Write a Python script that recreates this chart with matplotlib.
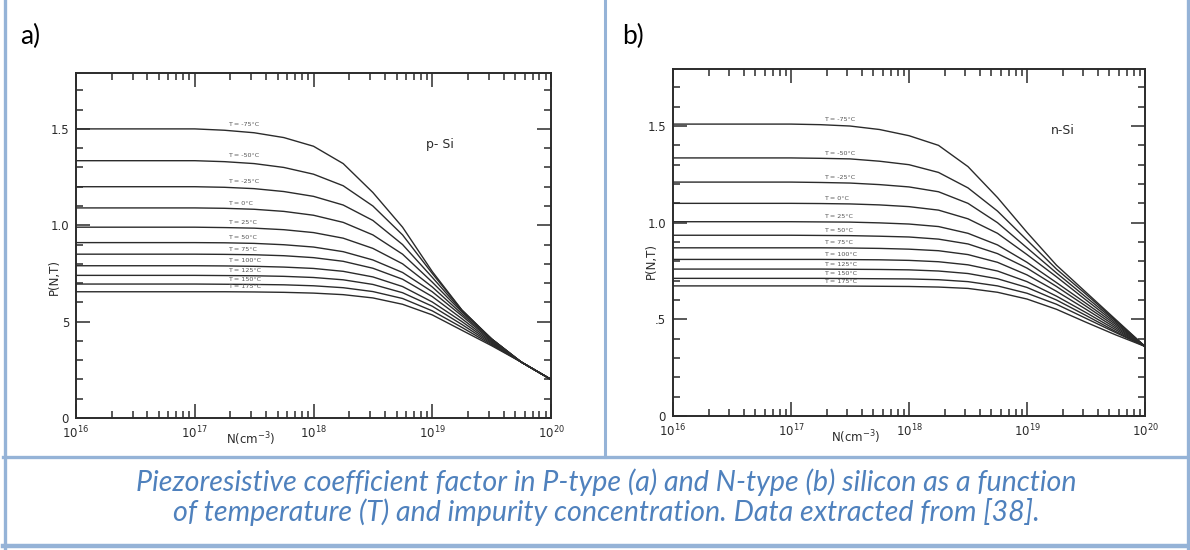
import matplotlib
matplotlib.use("Agg")
import matplotlib.pyplot as plt
import numpy as np
from matplotlib.lines import Line2D
from matplotlib.ticker import FixedLocator, MultipleLocator, NullFormatter
from matplotlib.transforms import blended_transform_factory

# doping grid, log10(N / cm^-3)
LOG_N = [16, 16.5, 17, 17.25, 17.5, 17.75, 18, 18.25, 18.5, 18.75, 19, 19.25, 19.5, 19.75, 20]
TEMPS = ["-75", "-50", "-25", "0", "25", "50", "75", "100", "125", "150", "175"]

# a) p-Si, one row per temperature
P_SI = [
    [1.50, 1.50, 1.50, 1.493, 1.48, 1.455, 1.41, 1.32, 1.17, 0.99, 0.76, 0.56, 0.41, 0.29, 0.20],
    [1.335, 1.335, 1.335, 1.33, 1.32, 1.30, 1.265, 1.205, 1.10, 0.95, 0.75, 0.56, 0.41, 0.29, 0.20],
    [1.20, 1.20, 1.20, 1.197, 1.19, 1.175, 1.15, 1.105, 1.025, 0.90, 0.73, 0.555, 0.41, 0.29, 0.20],
    [1.09, 1.09, 1.09, 1.088, 1.083, 1.072, 1.052, 1.015, 0.95, 0.85, 0.705, 0.55, 0.41, 0.29, 0.20],
    [0.99, 0.99, 0.99, 0.988, 0.985, 0.977, 0.962, 0.933, 0.88, 0.80, 0.68, 0.54, 0.405, 0.29, 0.20],
    [0.91, 0.91, 0.91, 0.909, 0.906, 0.899, 0.887, 0.863, 0.82, 0.755, 0.655, 0.53, 0.40, 0.29, 0.20],
    [0.85, 0.85, 0.85, 0.849, 0.847, 0.842, 0.832, 0.813, 0.777, 0.72, 0.63, 0.515, 0.395, 0.29, 0.20],
    [0.79, 0.79, 0.79, 0.789, 0.787, 0.783, 0.776, 0.761, 0.732, 0.682, 0.602, 0.50, 0.39, 0.29, 0.20],
    [0.74, 0.74, 0.74, 0.739, 0.738, 0.735, 0.729, 0.717, 0.693, 0.65, 0.58, 0.485, 0.385, 0.29, 0.20],
    [0.695, 0.695, 0.695, 0.694, 0.693, 0.691, 0.686, 0.676, 0.656, 0.62, 0.556, 0.47, 0.38, 0.29, 0.20],
    [0.655, 0.655, 0.655, 0.655, 0.654, 0.652, 0.648, 0.64, 0.623, 0.59, 0.535, 0.455, 0.375, 0.29, 0.20],
]

# b) n-Si
N_SI = [
    [1.51, 1.51, 1.51, 1.507, 1.50, 1.482, 1.45, 1.40, 1.29, 1.13, 0.95, 0.78, 0.64, 0.50, 0.36],
    [1.335, 1.335, 1.335, 1.333, 1.33, 1.318, 1.30, 1.26, 1.18, 1.06, 0.91, 0.76, 0.63, 0.495, 0.36],
    [1.21, 1.21, 1.21, 1.208, 1.205, 1.197, 1.185, 1.16, 1.10, 1.00, 0.87, 0.74, 0.615, 0.49, 0.36],
    [1.10, 1.10, 1.10, 1.099, 1.097, 1.092, 1.083, 1.065, 1.02, 0.945, 0.835, 0.72, 0.60, 0.482, 0.36],
    [1.005, 1.005, 1.005, 1.004, 1.003, 0.999, 0.993, 0.98, 0.945, 0.885, 0.795, 0.69, 0.583, 0.474, 0.36],
    [0.935, 0.935, 0.935, 0.934, 0.933, 0.93, 0.926, 0.915, 0.89, 0.84, 0.765, 0.67, 0.568, 0.465, 0.36],
    [0.87, 0.87, 0.87, 0.87, 0.869, 0.867, 0.863, 0.855, 0.835, 0.795, 0.73, 0.645, 0.552, 0.456, 0.36],
    [0.81, 0.81, 0.81, 0.81, 0.809, 0.808, 0.805, 0.798, 0.782, 0.75, 0.695, 0.62, 0.535, 0.447, 0.36],
    [0.76, 0.76, 0.76, 0.76, 0.759, 0.758, 0.756, 0.75, 0.737, 0.71, 0.665, 0.60, 0.52, 0.438, 0.36],
    [0.712, 0.712, 0.712, 0.712, 0.711, 0.71, 0.709, 0.705, 0.695, 0.673, 0.635, 0.578, 0.505, 0.432, 0.36],
    [0.673, 0.673, 0.673, 0.673, 0.672, 0.671, 0.67, 0.667, 0.66, 0.64, 0.605, 0.552, 0.485, 0.42, 0.36],
]

DECADES = [16, 17, 18, 19, 20]
CAPTION = ("Piezoresistive coefficient factor in P-type (a) and N-type (b) silicon as a function\n"
           "of temperature (T) and impurity concentration. Data extracted from [38].")

INK = "#2b2b2b"
BORDER = "#95b3d7"
CAP_BLUE = "#4f81bd"


def draw_panel(ax, curves, ytop, half_label, tag, tag_xy, ylab_y, nlab_x):
    n = 10.0 ** np.array(LOG_N)
    for row, t in zip(curves, TEMPS):
        ax.plot(n, row, color=INK, lw=1.0, solid_capstyle="round", solid_joinstyle="round")
        ax.text(10 ** 17.28, row[0] + 0.012, f"T = {t}°C", fontsize=4.6, color="#555555",
                va="bottom", ha="left")
    ax.set_xscale("log")
    ax.set_xlim(1e16, 1e20)
    ax.set_ylim(0, ytop)
    ax.xaxis.set_major_locator(FixedLocator([10.0 ** d for d in DECADES]))
    ax.set_xticklabels([f"$10^{{{d}}}$" for d in DECADES])
    ax.xaxis.set_minor_formatter(NullFormatter())
    ax.set_yticks([0, 0.5, 1.0, 1.5])
    ax.set_yticklabels(["0", half_label, "1.0", "1.5"])
    ax.yaxis.set_minor_locator(MultipleLocator(0.1))
    ax.tick_params(which="both", direction="in", top=True, right=True, colors=INK,
                   labelsize=8.5, width=1.1)
    ax.tick_params(which="major", length=10, pad=5)
    ax.tick_params(which="minor", length=5)
    for s in ax.spines.values():
        s.set_color(INK)
        s.set_linewidth(1.4)
    ax.text(tag_xy[0], tag_xy[1], tag, fontsize=9, color=INK, transform=ax.transData)
    ty = blended_transform_factory(ax.transAxes, ax.transData)
    ax.text(-0.045, ylab_y, "P(N,T)", rotation=90, fontsize=8.5, color=INK,
            ha="center", va="center", transform=ty)
    tx = blended_transform_factory(ax.transData, ax.transAxes)
    ax.text(10 ** nlab_x, -0.06, "N(cm$^{-3}$)", fontsize=8.5, color=INK,
            ha="center", va="center", transform=tx)


fig = plt.figure(figsize=(11.9, 5.5), dpi=100)

ax_a = fig.add_axes([76 / 1190, 1 - 418 / 550, 475 / 1190, 345 / 550])
draw_panel(ax_a, P_SI, 1.79, "5", "p- Si", (10 ** 18.95, 1.40), 0.73, 17.47)

ax_b = fig.add_axes([673 / 1190, 1 - 416 / 550, 472 / 1190, 347 / 550])
draw_panel(ax_b, N_SI, 1.795, ".5", "n-Si", (10 ** 19.2, 1.46), 0.8, 17.55)


# table borders
def hline(y, x0, x1, lw):
    fig.add_artist(Line2D([x0 / 1190, x1 / 1190], [1 - y / 550, 1 - y / 550],
                          color=BORDER, lw=lw, transform=fig.transFigure))


def vline(x, y0, y1, lw):
    fig.add_artist(Line2D([x / 1190, x / 1190], [1 - y0 / 550, 1 - y1 / 550],
                          color=BORDER, lw=lw, transform=fig.transFigure))


vline(4.5, 0, 548, 2.4)
vline(1187.5, 0, 548, 2.4)
vline(605, 0, 457, 2.2)
hline(457, 3, 1189, 2.4)
hline(546, 3, 1189, 3.2)

fig.text(20 / 1190, 1 - 36 / 550, "a)", fontsize=19, family="Lato", va="center")
fig.text(622 / 1190, 1 - 36 / 550, "b)", fontsize=19, family="Lato", va="center")
fig.text(606 / 1190, 1 - 497 / 550, CAPTION, fontsize=20.6, family="Lato", style="italic",
         color=CAP_BLUE, ha="center", va="center", linespacing=1.07)

fig.savefig("out.png", dpi=100)
